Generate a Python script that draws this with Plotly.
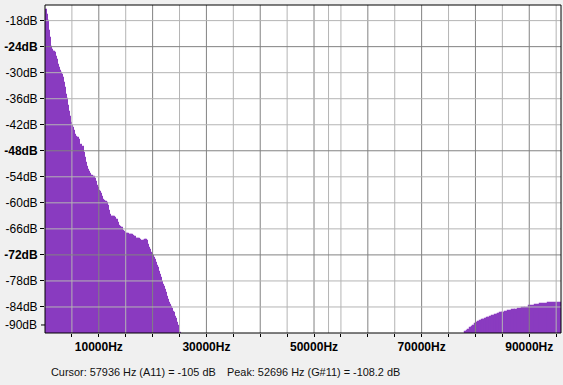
import plotly.graph_objects as go

# ---- data ----
freq_low_hz = [186, 372, 558, 744, 930, 1116, 1302, 1488, 1674, 1860,
               2046, 2232, 2418, 2604, 2790, 2976, 3162, 3348, 3534, 3720,
               3906, 4092, 4278, 4464, 4650, 4836, 5022, 5208, 5394, 5580,
               5766, 5952, 6138, 6324, 6510, 6696, 6882, 7068, 7254, 7440,
               7626, 7812, 7998, 8184, 8370, 8556, 8742, 8928, 9114, 9300,
               9486, 9672, 9858, 10044, 10230, 10416, 10602, 10788, 10974, 11160,
               11346, 11532, 11718, 11904, 12090, 12276, 12462, 12648, 12834, 13020,
               13206, 13392, 13578, 13764, 13950, 14136, 14322, 14508, 14694, 14880,
               15066, 15252, 15438, 15624, 15810, 15996, 16182, 16368, 16554, 16740,
               16926, 17112, 17298, 17484, 17670, 17856, 18042, 18228, 18414, 18600,
               18786, 18972, 19158, 19344, 19530, 19716, 19902, 20088, 20274, 20460,
               20646, 20832, 21018, 21204, 21390, 21576, 21762, 21948, 22134, 22320,
               22506, 22692, 22878, 23064, 23250, 23436, 23622, 23808, 23994, 24180,
               24366, 24552, 24738, 24924, 25110]
db_low = [-15.5, -16.7, -18.1, -20.4, -22.0, -24.1, -24.7, -25.2, -25.2, -25.4,
          -26.4, -27.1, -28.2, -28.9, -29.6, -30.0, -30.5, -31.2, -32.3, -33.5,
          -35.1, -36.0, -37.6, -39.0, -40.2, -41.6, -42.3, -42.7, -43.4, -44.3,
          -44.8, -45.0, -45.0, -45.5, -47.1, -46.6, -47.3, -47.1, -48.5, -49.6,
          -50.8, -51.7, -52.4, -52.8, -53.3, -53.8, -53.8, -54.0, -54.0, -54.5,
          -55.1, -56.1, -56.5, -57.2, -57.5, -57.9, -58.6, -59.3, -59.5, -59.8,
          -59.8, -60.0, -60.7, -61.8, -62.7, -63.2, -63.2, -63.2, -63.2, -63.4,
          -63.9, -63.9, -64.6, -65.3, -65.5, -65.7, -65.7, -66.4, -66.7, -66.9,
          -67.1, -67.1, -67.1, -67.4, -67.4, -67.4, -67.4, -67.6, -67.8, -67.8,
          -68.3, -68.3, -68.3, -68.3, -68.5, -68.7, -69.0, -68.7, -68.7, -68.5,
          -68.5, -68.7, -69.7, -70.3, -70.8, -71.5, -71.7, -72.2, -72.7, -73.1,
          -73.8, -74.5, -75.0, -75.9, -76.6, -77.3, -78.2, -78.9, -79.3, -80.0,
          -80.7, -81.6, -82.3, -83.0, -83.5, -83.9, -84.4, -85.1, -85.3, -86.2,
          -86.7, -87.6, -88.5, -89.7, -89.9]
freq_high_hz = [78040, 78410, 78590, 78970, 79340, 79520, 79890, 80270, 80450, 80820,
                81200, 81380, 81750, 82120, 82310, 82680, 83050, 83610, 83980, 84170,
                84540, 84910, 85470, 86030, 86770, 87330, 87880, 88630, 89180, 89930,
                91040, 91970, 93460]
db_high = [-89.8, -89.5, -89.2, -88.9, -88.6, -88.3, -88.0, -87.7, -87.5, -87.2,
           -87.1, -86.9, -86.8, -86.6, -86.5, -86.3, -86.1, -85.9, -85.8, -85.6,
           -85.4, -85.3, -85.1, -84.9, -84.8, -84.6, -84.5, -84.3, -84.2, -83.7,
           -83.5, -83.2, -83.1]
bin_hz = 186
nyquist_hz = 95900
floor_db = -100

y_ticks = [-18, -24, -30, -36, -42, -48, -54, -60, -66, -72, -78, -84]
y_major = [-24, -48, -72]
y_bottom_label = "-90dB"
x_major = [10000, 20000, 30000, 40000, 50000, 60000, 70000, 80000, 90000]
x_labelled = [10000, 30000, 50000, 70000, 90000]
x_minor = [5000, 15000, 25000, 35000, 45000, 55000, 65000, 75000, 85000, 95000]
peak_hz = 52696
cursor_text = "Cursor: 57936 Hz (A11) = -105 dB"
peak_text = "Peak: 52696 Hz (G#11) = -108.2 dB"

# ---- styling ----
PURPLE = "#8a3bc0"
LIGHT = "#b4b4b4"
DARK = "#828282"
FONT = "Liberation Sans"
W, H = 563, 385
L, R, T, B = 45, 2, 5, 52
PW = W - L - R
PH = H - T - B

high_widths = [b - a for a, b in zip(freq_high_hz, freq_high_hz[1:] + [nyquist_hz])]

fig = go.Figure()
fig.add_trace(go.Bar(
    x=freq_low_hz, y=[v - floor_db for v in db_low], base=floor_db,
    width=bin_hz, offset=0, marker=dict(color=PURPLE, line=dict(color=PURPLE, width=1.2)),
    hoverinfo="skip"))
fig.add_trace(go.Bar(
    x=freq_high_hz, y=[v - floor_db for v in db_high], base=floor_db,
    width=high_widths, offset=0, marker=dict(color=PURPLE, line=dict(color=PURPLE, width=1.2)),
    hoverinfo="skip"))

shapes = []
for f in x_minor + [peak_hz]:
    shapes.append(dict(type="line", xref="x", yref="paper", x0=f, x1=f, y0=0, y1=1,
                       line=dict(color=LIGHT, width=1), layer="above"))
for f in x_major:
    shapes.append(dict(type="line", xref="x", yref="paper", x0=f, x1=f, y0=0, y1=1,
                       line=dict(color=DARK, width=1), layer="above"))
for v in y_ticks:
    shapes.append(dict(type="line", xref="paper", yref="y", x0=0, x1=1, y0=v, y1=v,
                       line=dict(color=DARK if v in y_major else LIGHT, width=1), layer="above"))
# frame
shapes.append(dict(type="rect", xref="paper", yref="paper", x0=0, x1=1, y0=0, y1=1,
                   line=dict(color="black", width=1), layer="above"))
# tick for the bottom label
label_db = -88.15
shapes.append(dict(type="line", xref="paper", yref="y", x0=-4 / PW, x1=0, y0=label_db, y1=label_db,
                   line=dict(color="black", width=1)))

y_text = [f"<b>{v}dB</b>" if v in y_major else f"{v}dB" for v in y_ticks]
x_text = [f"<b>{f}Hz</b>" if f in x_labelled else "" for f in x_major]

fig.update_layout(
    width=W, height=H, margin=dict(l=L, r=R, t=T, b=B, pad=0, autoexpand=False),
    paper_bgcolor="#f0f0f0", plot_bgcolor="white",
    showlegend=False, barmode="overlay", bargap=0,
    font=dict(family=FONT, size=12, color="black"),
    shapes=shapes,
    xaxis=dict(range=[0, nyquist_hz], tickvals=x_major, ticktext=x_text, automargin=False,
               showgrid=False, zeroline=False, ticks="outside", ticklen=3,
               tickcolor="black", showline=False,
               minor=dict(tickvals=x_minor, ticks="outside", ticklen=3, tickcolor="black", showgrid=False),
               tickfont=dict(family=FONT, size=12, color="black")),
    yaxis=dict(range=[-90, -14.4], tickvals=y_ticks, ticktext=y_text, automargin=False,
               showgrid=False, zeroline=False, ticks="outside", ticklen=4,
               tickcolor="black", showline=False,
               tickfont=dict(family=FONT, size=12, color="black")),
    annotations=[
        dict(text=y_bottom_label, xref="paper", yref="y", x=-6 / PW, y=label_db,
             xanchor="right", yanchor="middle", showarrow=False,
             font=dict(family=FONT, size=12, color="black")),
        dict(text=cursor_text, xref="paper", yref="paper", x=4 / PW, y=-39 / PH,
             xanchor="left", yanchor="middle", showarrow=False,
             font=dict(family=FONT, size=10.9, color="#111111")),
        dict(text=peak_text, xref="paper", yref="paper", x=180 / PW, y=-39 / PH,
             xanchor="left", yanchor="middle", showarrow=False,
             font=dict(family=FONT, size=10.9, color="#111111")),
    ],
)

fig.write_html("out.html", config={"displayModeBar": False},
               post_script="document.body.style.margin='0';document.body.style.background='#f0f0f0';")
